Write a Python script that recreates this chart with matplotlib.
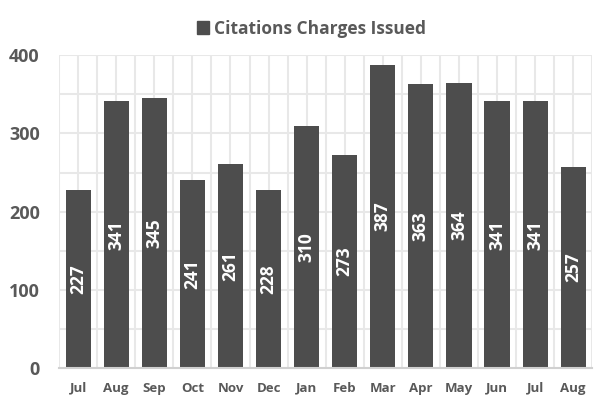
import numpy as np
import matplotlib.pyplot as plt
from matplotlib.patches import Patch

months = ["Jul", "Aug", "Sep", "Oct", "Nov", "Dec", "Jan", "Feb", "Mar", "Apr",
          "May", "Jun", "Jul", "Aug"]
citations = [227, 341, 345, 241, 261, 228, 310, 273, 387, 363, 364, 341, 341, 257]

BAR = "#4d4d4d"
GRID = "#e8e8e8"
TEXT = "#595959"

plt.rcParams['font.family'] = ['Open Sans', 'DejaVu Sans']

fig = plt.figure(figsize=(5.97, 4.0), dpi=100)
ax = fig.add_axes([0.099, 0.08, 0.893, 0.782])

x = np.arange(len(months))
bars = ax.bar(x, citations, width=0.66, color=BAR, zorder=3)
for xi, v in zip(x, citations):
    ax.text(xi, v / 2, str(v), rotation=90, ha="center", va="center",
            color="white", fontsize=12.5, fontweight="bold", zorder=4)

ax.set_xlim(-0.5, len(months) - 0.5)
ax.set_ylim(0, 400)
ax.set_yticks(np.arange(0, 401, 100))
ax.set_yticks(np.arange(0, 401, 50), minor=True)
ax.set_xticks(x)
ax.set_xticklabels(months)
ax.set_xticks(np.arange(-0.5, len(months)), minor=True)
ax.grid(which="both", color=GRID, linewidth=1.5, zorder=0)
ax.tick_params(which="both", length=0)
ax.tick_params(axis="y", labelsize=13, labelcolor=TEXT, pad=14)
ax.tick_params(axis="x", labelsize=9.5, labelcolor=TEXT, pad=10)
for lab in ax.get_xticklabels() + ax.get_yticklabels():
    lab.set_fontweight("bold")
for s in ["top", "right", "left"]:
    ax.spines[s].set_visible(False)
ax.spines["bottom"].set_color("#d0d0d0")
ax.spines["bottom"].set_linewidth(1.5)
ax.spines["bottom"].set_zorder(5)

fig.legend(handles=[Patch(color=BAR, label="Citations Charges Issued")],
           loc="upper center", bbox_to_anchor=(0.522, 0.99), frameon=False,
           handlelength=0.7, handleheight=0.7, handletextpad=0.3,
           prop={"size": 12.5, "weight": "bold"}, labelcolor=TEXT)

fig.savefig("out.png", dpi=100, facecolor="white")
